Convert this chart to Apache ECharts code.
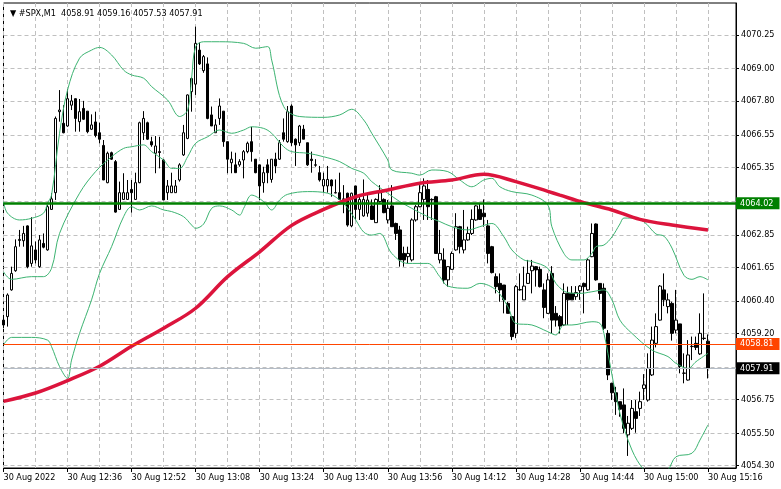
<!DOCTYPE html>
<html><head><meta charset="utf-8">
<script src="https://cdn.jsdelivr.net/npm/echarts@6/dist/echarts.min.js"></script>
<style>html,body{margin:0;padding:0;background:#fff}#c{width:781px;height:489px}</style>
</head><body><div id="c"></div>
<script>
// ---------- data ----------
const symbolLabel = '#SPX,M1';
const firstMinute = 12 * 60 + 20;   // 12:20
const categoryCount = 184;
const xTickLabels = ['30 Aug 2022','30 Aug 12:36','30 Aug 12:52','30 Aug 13:08','30 Aug 13:24','30 Aug 13:40','30 Aug 13:56','30 Aug 14:12','30 Aug 14:28','30 Aug 14:44','30 Aug 15:00','30 Aug 15:16'];
const yTickLabels = ['4070.25','4069.00','4067.80','4066.55','4065.35','4062.85','4061.65','4060.40','4059.20','4056.75','4055.50','4054.30'];
const yGridValues = [4070.25,4069.00,4067.80,4066.55,4065.35,4064.10,4062.85,4061.65,4060.40,4059.20,4057.95,4056.75,4055.50,4054.30];
const yMin = 4054.213, yMax = 4071.435;

// candles: [open, high, low, close]
const candlesOHLC = [
[4059.69,4059.82,4059.39,4059.51],[4059.82,4060.68,4059.45,4060.62],[4060.81,4061.67,4060.78,4061.42],[4061.52,4062.68,4061.48,4062.41],
[4062.64,4063.03,4062.41,4062.68],[4062.63,4063.18,4062.41,4062.90],[4063.18,4063.20,4061.61,4061.67],[4061.79,4063.50,4061.67,4062.44],
[4062.29,4062.60,4061.79,4061.92],[4061.67,4062.84,4061.63,4062.66],[4062.53,4062.90,4062.35,4062.39],[4062.29,4063.95,4062.26,4063.89],
[4063.79,4064.39,4063.77,4064.18],[4064.41,4067.23,4064.14,4067.16],[4067.41,4068.21,4067.04,4067.47],[4066.98,4067.65,4066.61,4066.63],
[4066.88,4068.24,4066.85,4067.89],[4067.65,4068.03,4067.47,4067.81],[4067.89,4067.90,4066.67,4067.16],[4067.04,4067.88,4066.67,4067.41],
[4067.53,4067.81,4067.10,4067.13],[4067.43,4067.43,4066.61,4066.67],[4066.76,4067.31,4066.73,4066.92],[4067.03,4067.41,4066.46,4066.53],
[4066.63,4067.00,4066.24,4066.39],[4066.16,4066.36,4064.88,4064.88],[4064.78,4065.93,4064.76,4065.87],[4065.89,4065.93,4065.62,4065.65],
[4065.56,4065.62,4063.67,4063.69],[4063.79,4064.82,4063.77,4064.41],[4064.16,4065.13,4064.14,4064.41],[4064.16,4064.88,4064.14,4064.41],
[4064.53,4064.88,4063.67,4064.41],[4064.16,4065.15,4064.14,4064.78],[4064.78,4067.04,4064.76,4067.00],[4066.63,4067.43,4066.36,4067.16],
[4067.00,4067.04,4066.36,4066.39],[4066.30,4066.48,4066.11,4066.18],[4065.87,4066.51,4065.13,4066.14],[4065.93,4066.48,4065.31,4065.90],
[4065.62,4065.65,4064.14,4064.14],[4064.41,4064.88,4064.14,4064.66],[4064.41,4065.15,4064.41,4064.66],[4064.41,4064.88,4064.41,4064.66],
[4064.88,4065.50,4064.82,4065.44],[4065.81,4066.92,4065.77,4066.63],[4066.42,4068.05,4066.39,4068.03],[4068.15,4068.68,4067.41,4068.64],
[4068.43,4070.56,4068.03,4069.94],[4069.69,4069.97,4069.14,4069.18],[4068.93,4069.51,4068.85,4069.45],[4069.18,4069.42,4067.13,4067.16],
[4067.29,4067.60,4066.88,4066.88],[4066.63,4067.13,4066.63,4066.92],[4067.16,4067.90,4066.92,4067.62],[4067.43,4067.43,4066.11,4066.30],
[4066.30,4066.30,4065.13,4065.65],[4065.52,4065.93,4065.13,4065.65],[4065.44,4065.89,4065.15,4065.15],[4065.44,4065.65,4065.37,4065.56],
[4065.62,4065.99,4064.94,4065.93],[4065.93,4066.30,4065.87,4066.24],[4066.30,4066.85,4065.56,4065.93],[4065.65,4065.65,4065.13,4065.15],
[4065.44,4065.44,4064.14,4064.66],[4064.78,4065.37,4064.41,4065.15],[4065.44,4065.65,4064.76,4065.15],[4064.90,4065.65,4064.78,4065.65],
[4065.65,4065.89,4065.13,4065.40],[4065.65,4066.36,4065.62,4066.26],[4066.63,4067.16,4066.30,4066.39],[4066.30,4067.62,4066.26,4067.41],
[4067.62,4067.68,4066.14,4066.26],[4066.39,4066.42,4065.40,4066.18],[4066.26,4066.92,4066.14,4066.88],[4066.76,4066.92,4066.39,4066.39],
[4066.26,4066.26,4065.40,4065.44],[4065.65,4065.93,4065.15,4065.60],[4065.44,4065.65,4065.37,4065.43],[4065.15,4065.40,4064.82,4064.88],
[4064.66,4065.15,4064.41,4064.90],[4064.66,4065.40,4064.41,4064.90],[4064.88,4064.90,4064.26,4064.66],[4064.41,4064.90,4064.39,4064.40],
[4064.41,4065.15,4064.14,4064.16],[4064.16,4064.69,4063.65,4064.18],[4064.39,4064.41,4063.15,4063.21],[4063.18,4064.41,4063.13,4064.39],
[4064.66,4064.66,4063.40,4063.79],[4063.79,4064.26,4063.40,4064.16],[4063.55,4064.90,4063.52,4064.16],[4063.65,4064.41,4063.52,4064.14],
[4063.92,4064.16,4063.40,4063.42],[4063.30,4064.20,4063.30,4064.16],[4064.08,4064.69,4064.04,4064.41],[4064.16,4064.20,4063.65,4063.67],
[4063.40,4064.14,4063.27,4063.83],[4063.92,4064.69,4063.15,4063.15],[4063.27,4063.30,4062.66,4062.90],[4063.03,4063.18,4061.67,4061.92],
[4062.16,4062.41,4061.67,4061.92],[4062.04,4062.41,4061.79,4062.16],[4061.92,4063.46,4061.86,4063.40],[4063.40,4063.95,4063.34,4063.89],
[4063.89,4064.69,4063.87,4064.41],[4064.16,4064.94,4063.40,4064.66],[4064.53,4064.88,4063.40,4063.89],[4064.16,4064.20,4063.40,4064.14],
[4064.26,4064.29,4062.16,4062.16],[4061.92,4063.03,4061.79,4062.16],[4061.92,4062.35,4061.05,4061.18],[4061.18,4061.69,4060.93,4061.67],
[4061.57,4062.23,4061.55,4062.16],[4062.29,4063.65,4062.26,4063.15],[4063.15,4063.18,4062.16,4062.41],[4062.29,4063.77,4062.16,4062.66],
[4062.66,4063.15,4062.63,4062.90],[4062.90,4063.79,4062.84,4063.42],[4063.40,4063.95,4063.37,4063.92],[4063.79,4064.02,4063.40,4063.42],
[4063.65,4064.16,4063.15,4063.52],[4063.18,4063.40,4061.79,4062.16],[4062.41,4062.44,4061.42,4061.45],[4061.30,4061.42,4060.68,4060.93],
[4061.05,4061.42,4060.37,4060.81],[4060.99,4060.99,4059.94,4060.44],[4060.31,4060.37,4059.94,4059.94],[4059.82,4059.82,4058.95,4059.08],
[4059.20,4060.99,4059.02,4060.93],[4060.81,4061.42,4060.78,4060.82],[4060.44,4061.67,4060.44,4060.95],[4061.05,4061.92,4061.03,4061.42],
[4061.52,4061.92,4060.68,4061.69],[4061.67,4061.69,4060.93,4061.55],[4061.57,4061.67,4060.90,4060.93],[4060.81,4061.05,4059.76,4060.16],
[4059.94,4061.42,4059.92,4061.18],[4061.42,4061.69,4059.20,4059.69],[4059.94,4060.21,4059.45,4059.69],[4059.82,4059.88,4059.20,4059.47],
[4059.51,4061.05,4059.47,4060.68],[4060.68,4060.93,4059.51,4060.44],[4060.68,4060.95,4060.44,4060.44],[4060.56,4060.95,4060.44,4060.71],
[4060.78,4060.99,4060.44,4060.95],[4061.05,4061.08,4059.94,4060.93],[4060.81,4061.98,4060.78,4061.92],[4062.04,4063.27,4062.02,4062.90],
[4063.25,4063.27,4061.15,4061.18],[4061.05,4061.05,4060.44,4060.68],[4060.87,4061.05,4059.32,4059.39],[4059.20,4059.32,4057.47,4057.66],
[4057.35,4057.37,4056.73,4057.00],[4057.00,4057.22,4056.18,4056.67],[4056.67,4056.67,4056.11,4056.39],[4056.55,4057.16,4055.50,4055.68],
[4055.44,4056.14,4054.66,4055.87],[4055.68,4056.73,4055.62,4056.42],[4056.30,4056.73,4055.52,4056.05],[4056.42,4057.04,4056.14,4056.67],
[4057.16,4057.69,4056.73,4057.29],[4056.73,4058.46,4056.67,4057.90],[4057.66,4059.45,4057.62,4058.95],[4058.83,4059.94,4058.68,4059.45],
[4059.69,4060.99,4059.67,4060.95],[4060.81,4061.42,4060.21,4060.44],[4060.19,4060.68,4059.94,4060.44],[4060.31,4060.37,4058.93,4059.20],
[4059.32,4060.81,4059.20,4059.69],[4059.55,4059.55,4057.72,4057.97],[4057.72,4058.46,4057.35,4057.73],[4057.47,4058.95,4057.45,4058.40],
[4058.71,4059.08,4058.21,4058.72],[4058.83,4059.08,4058.58,4058.68],[4058.44,4059.94,4058.40,4059.20],[4059.02,4060.68,4058.95,4059.01],
[4058.91,4059.16,4057.53,4057.91]
];

// Bollinger bands: [bar index, price]
const bbUpper = [[0,4064.08],[1,4063.65],[4,4063.40],[7,4063.46],[10,4063.65],[11,4064.02],[12,4064.32],[14,4066.61],[16,4068.21],[19,4069.39],[22,4069.69],[24,4069.79],[27,4069.51],[30,4068.95],[32,4068.77],[35,4068.65],[37,4068.34],[41,4067.84],[44,4067.23],[46,4067.47],[47,4068.65],[48,4069.82],[50,4070.00],[54,4070.00],[60,4069.94],[63,4069.76],[66,4069.82],[67,4069.32],[70,4067.60],[74,4067.23],[80,4067.20],[84,4067.29],[87,4067.50],[90,4067.10],[92,4066.61],[96,4065.62],[97,4065.25],[102,4065.13],[104,4065.06],[107,4065.25],[111,4065.19],[114,4064.88],[117,4064.63],[120,4064.88],[122,4064.94],[124,4064.63],[127,4064.45],[132,4064.32],[136,4063.95],[137,4063.15],[140,4062.16],[142,4061.92],[145,4061.92],[147,4062.16],[148,4062.41],[150,4062.47],[152,4062.77],[154,4063.25],[155,4063.47],[157,4063.47],[160,4063.33],[163,4062.88],[165,4062.80],[167,4062.36],[170,4061.35],[172,4061.20],[174,4061.30],[176,4061.18]];
const bbMiddle = [[0,4061.48],[2,4061.20],[7,4061.30],[10,4061.30],[12,4061.61],[14,4062.90],[19,4064.39],[23,4065.19],[27,4065.74],[30,4066.05],[32,4066.11],[35,4066.18],[37,4065.93],[40,4065.62],[42,4065.31],[44,4065.31],[46,4065.74],[48,4066.24],[51,4066.48],[54,4066.73],[57,4066.61],[60,4066.73],[62,4066.85],[65,4066.79],[67,4066.61],[70,4066.11],[72,4065.93],[76,4065.87],[80,4065.74],[84,4065.56],[87,4065.31],[90,4065.13],[92,4064.82],[96,4064.39],[99,4064.08],[102,4063.83],[106,4063.52],[109,4063.34],[112,4063.15],[116,4063.03],[119,4063.15],[122,4063.27],[125,4062.78],[127,4062.29],[130,4061.92],[132,4061.86],[136,4061.61],[138,4061.05],[141,4060.71],[144,4060.68],[147,4060.74],[150,4060.81],[152,4060.44],[154,4059.69],[157,4059.20],[162,4058.58],[166,4058.34],[168,4058.09],[171,4057.90],[173,4058.15],[176,4058.46]];
const bbLower = [[0,4058.77],[2,4059.05],[7,4059.05],[11,4058.95],[12,4058.71],[14,4057.97],[16,4057.53],[17,4058.21],[19,4059.20],[22,4060.44],[24,4061.42],[27,4062.41],[30,4063.52],[32,4063.89],[34,4063.77],[37,4063.92],[40,4063.77],[42,4063.71],[45,4063.52],[47,4063.21],[48,4063.09],[50,4063.25],[52,4063.83],[54,4063.92],[57,4063.77],[59,4063.58],[60,4063.83],[62,4064.32],[65,4064.08],[67,4063.77],[69,4064.14],[71,4064.35],[76,4064.45],[81,4064.39],[84,4064.14],[86,4063.83],[88,4063.40],[90,4062.95],[92,4062.84],[94,4062.90],[97,4062.16],[101,4061.79],[106,4061.79],[109,4061.30],[111,4060.95],[116,4060.87],[119,4061.05],[123,4060.81],[126,4060.19],[128,4059.57],[132,4059.51],[136,4059.26],[138,4059.14],[140,4059.51],[142,4059.51],[147,4059.63],[149,4059.57],[150,4059.20],[151,4058.46],[154,4056.24],[157,4054.88],[160,4054.14],[163,4053.80],[166,4054.14],[168,4054.63],[172,4054.76],[174,4055.25],[176,4055.81]];
// Moving average (red)
const maLine = [[0,4056.68],[8,4056.99],[16,4057.45],[24,4057.98],[32,4058.72],[40,4059.39],[48,4060.13],[56,4061.30],[64,4062.22],[72,4063.20],[80,4063.79],[88,4064.26],[96,4064.51],[104,4064.76],[112,4064.88],[120,4065.09],[128,4064.82],[136,4064.46],[139,4064.32],[145,4064.04],[152,4063.77],[159,4063.42],[167,4063.21],[176,4063.03]];

// horizontal price levels
const levelValues = [4064.02, 4058.81, 4057.91];
const levelColors = ['#008000', '#FF4500', '#000000'];
const levelLineColors = ['#008000', '#FF4500', '#B4BCC6'];
const levelWidths = [2.5, 1, 1];

// ---------- build ----------
const categories = [];
for (let m = 0; m < categoryCount; m++) {
  const t = firstMinute + m;
  categories.push(String(Math.floor(t / 60)).padStart(2, '0') + ':' + String(t % 60).padStart(2, '0'));
}
const candleData = candlesOHLC.map(r => [r[0], r[3], r[2], r[1]]);
const last = candlesOHLC[candlesOHLC.length - 1];
const FONT = "'DejaVu Sans Condensed','DejaVu Sans',sans-serif";

const chart = echarts.init(document.getElementById('c'), null, {renderer: 'canvas'});
const lineSeries = (data, color, width, z) => ({
  type: 'line', data: data, showSymbol: false, symbol: 'none', smooth: 0.35,
  lineStyle: {color: color, width: width}, z: z, silent: true, animation: false
});
chart.setOption({
  animation: false,
  backgroundColor: '#fff',
  title: {
    text: '▼ ' + symbolLabel + '  ' + last.map(v => v.toFixed(2)).join(' '),
    left: 5, top: 4,
    textStyle: {fontSize: 9, fontWeight: 'normal', fontFamily: FONT, color: '#000'}
  },
  grid: {left: 3.5, right: 45, top: 3, bottom: 21, show: true, borderColor: '#000', borderWidth: 1, backgroundColor: '#fff'},
  xAxis: {
    type: 'category', data: categories, boundaryGap: false,
    axisLine: {show: true, lineStyle: {color: '#000', width: 1}},
    axisTick: {show: true, interval: 15, length: 4, lineStyle: {color: '#000'}},
    axisLabel: {
      interval: 15, align: 'left', margin: 5, fontSize: 9, fontFamily: FONT, color: '#000',
      formatter: (v, idx) => xTickLabels[Math.round(idx / 16)] || ''
    },
    splitLine: {show: true, interval: 7, lineStyle: {color: '#c0c0c0', type: [4, 3], width: 1}}
  },
  yAxis: {
    type: 'value', position: 'right', min: yMin, max: yMax,
    axisLine: {show: true, lineStyle: {color: '#000', width: 1}},
    axisTick: {show: true, length: 3, customValues: yGridValues, lineStyle: {color: '#000'}},
    axisLabel: {customValues: yTickLabels.map(Number), formatter: v => v.toFixed(2), margin: 5,
      fontSize: 9, fontFamily: FONT, color: '#000', showMinLabel: true, showMaxLabel: true},
    splitLine: {show: true, lineStyle: {color: '#c0c0c0', type: [4, 3], width: 1}}
  },
  series: [
    {
      type: 'candlestick', data: candleData, barWidth: 3, clip: false, z: 2,
      itemStyle: {color: '#ffffff', color0: '#000000', borderColor: '#000000', borderColor0: '#000000', borderWidth: 1},
      markLine: {
        symbol: ['none', 'none'], silent: true, animation: false, precision: 2,
        data: levelValues.map((v, k) => ({
          yAxis: v,
          lineStyle: {color: levelLineColors[k], width: levelWidths[k], type: 'solid'},
          label: {show: true, position: 'end', distance: 0, formatter: v.toFixed(2),
            color: '#fff', backgroundColor: levelColors[k], padding: [2, 6, 1, 4],
            fontSize: 9, fontFamily: FONT}
        }))
      }
    },
    lineSeries(bbUpper, '#3CB371', 1, 3),
    lineSeries(bbMiddle, '#3CB371', 1, 3),
    lineSeries(bbLower, '#3CB371', 1, 3),
    lineSeries(maLine, '#DC143C', 3.5, 4)
  ]
});
</script></body></html>
